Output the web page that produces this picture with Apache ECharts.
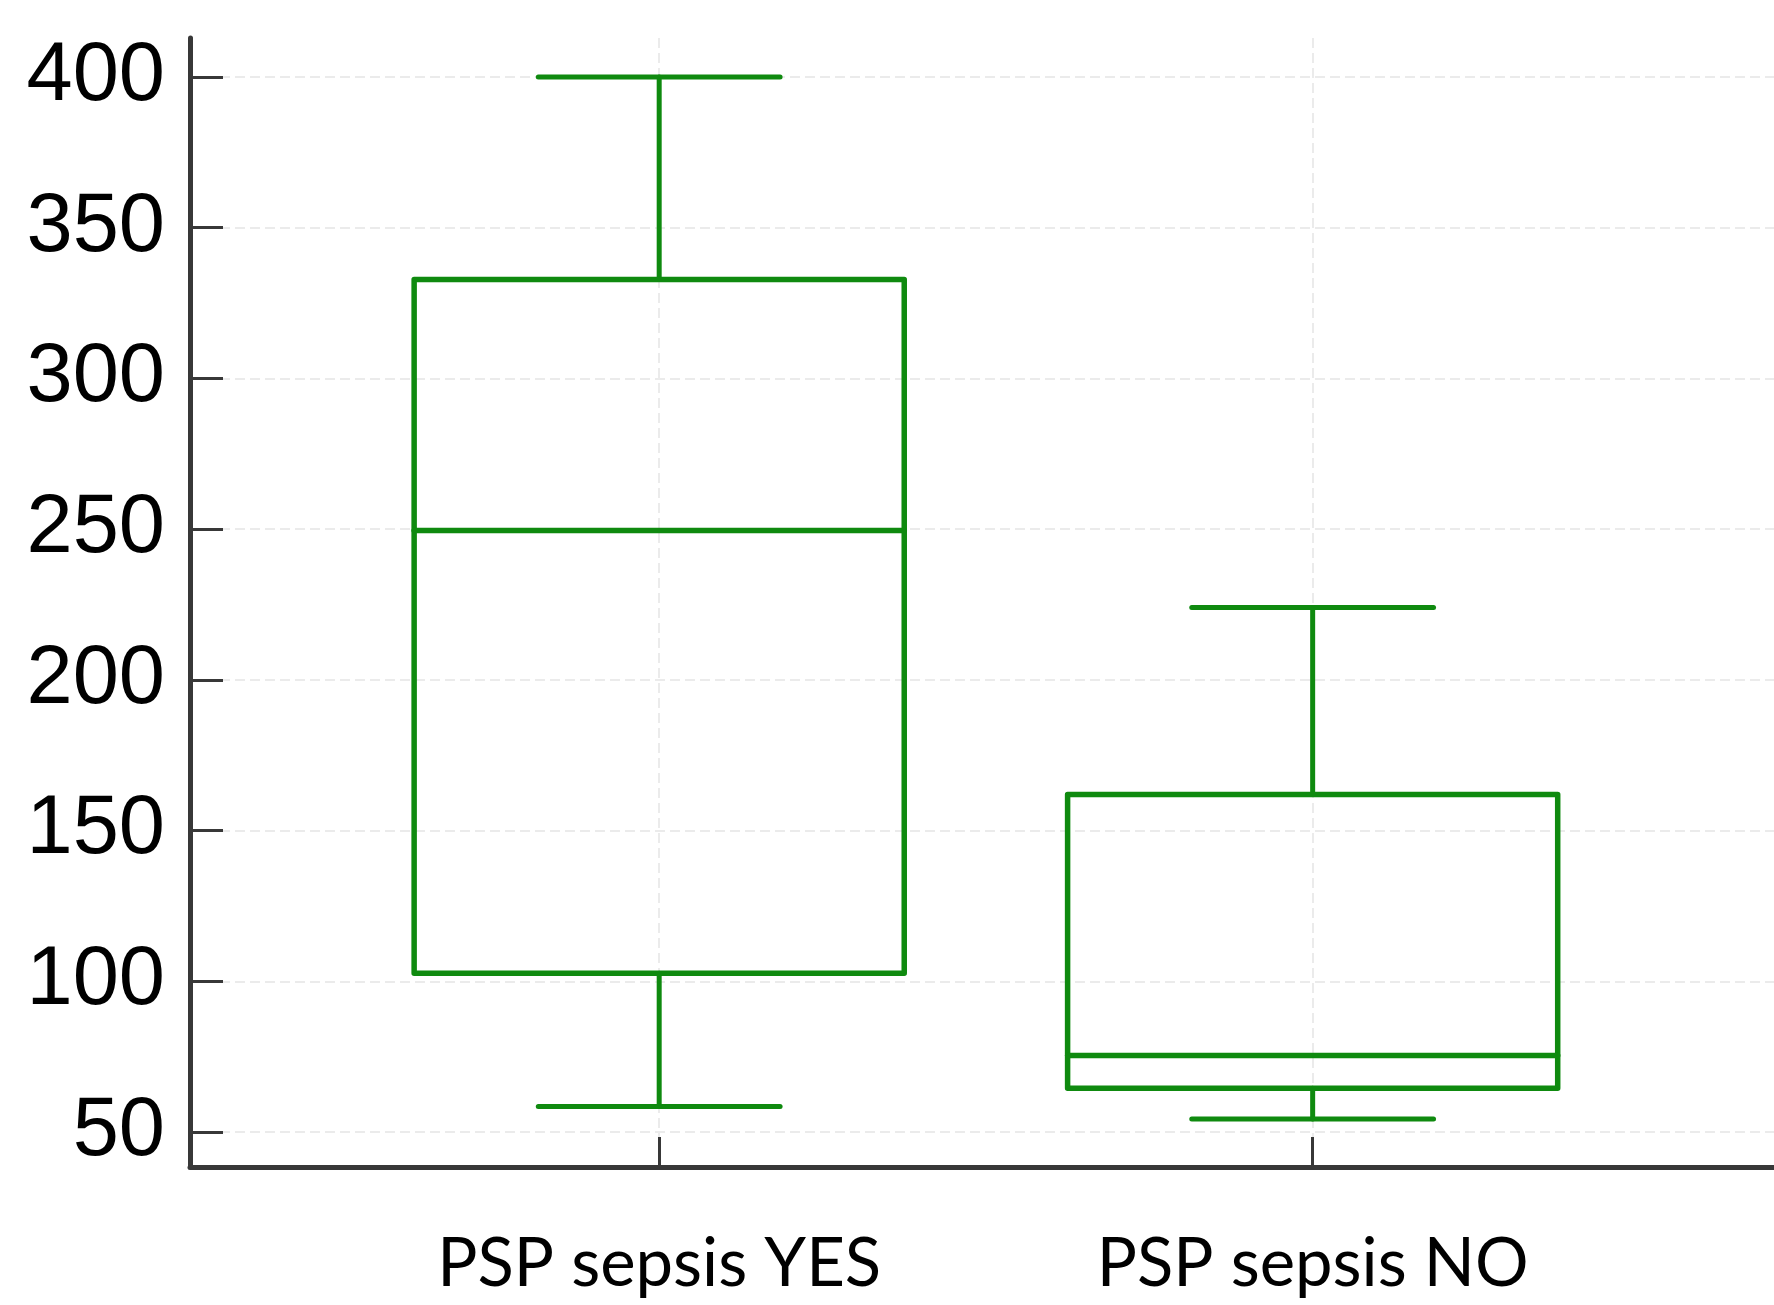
<!DOCTYPE html>
<html>
<head>
<meta charset="utf-8">
<script src="https://cdn.jsdelivr.net/npm/echarts@6/dist/echarts.min.js"></script>
<style>
  html, body { margin: 0; padding: 0; background: #fff; }
  #chart { width: 1774px; height: 1305px; }
</style>
</head>
<body>
<div id="chart"></div>
<script>
// ---- data ----
const categories = ['PSP sepsis YES', 'PSP sepsis NO'];
const mins    = [58.5, 54.3];
const q1s     = [102.7, 64.5];
const medians = [249.5, 75.4];
const q3s     = [332.8, 162];
const maxs    = [400, 224];
const yTicks  = [50, 100, 150, 200, 250, 300, 350, 400];

const GREEN = '#0f8a0f';
const AXIS = '#383838';
const GRID = '#ebebeb';
const BOX_FRAC = 0.75;
const CAP_FRAC = 0.37;

const boxData = categories.map((c, i) => [i + 1, mins[i], q1s[i], medians[i], q3s[i], maxs[i]]);
const catPositions = categories.map((c, i) => i + 1);

const chart = echarts.init(document.getElementById('chart'), null, { renderer: 'canvas' });

chart.setOption({
  animation: false,
  backgroundColor: '#ffffff',
  grid: { left: 190, top: 38, right: 0, height: 1129, containLabel: false },
  xAxis: {
    type: 'value',
    min: 0.282,
    max: 2.706,
    axisLine: { show: true, lineStyle: { color: AXIS, width: 5 } },
    axisTick: { show: true, inside: true, length: 30, customValues: catPositions, lineStyle: { color: AXIS, width: 3 } },
    axisLabel: {
      show: true,
      customValues: catPositions,
      margin: 64,
      formatter: v => categories[Math.round(v) - 1] || '',
      color: '#000',
      fontFamily: 'Lato',
      fontSize: 67
    },
    splitLine: { show: true, customValues: catPositions, lineStyle: { color: GRID, width: 2, type: [10, 5] } }
  },
  yAxis: {
    type: 'value',
    min: 38.4,
    max: 412.9,
    axisLine: { show: true, lineStyle: { color: AXIS, width: 5 } },
    axisTick: { show: true, inside: true, length: 33, customValues: yTicks, lineStyle: { color: AXIS, width: 3 } },
    axisLabel: {
      show: true,
      customValues: yTicks,
      margin: 25,
      color: '#000',
      fontFamily: 'Liberation Sans',
      fontSize: 83
    },
    splitLine: { show: true, customValues: yTicks, lineStyle: { color: GRID, width: 2, type: [10, 5] } }
  },
  series: [{
    type: 'custom',
    clip: false,
    data: boxData,
    renderItem: function (params, api) {
      const x = api.value(0);
      const unit = api.size([1, 0])[0];
      const bw = unit * BOX_FRAC;
      const cw = unit * CAP_FRAC;
      const pLo = api.coord([x, api.value(1)]);
      const pQ1 = api.coord([x, api.value(2)]);
      const pMed = api.coord([x, api.value(3)]);
      const pQ3 = api.coord([x, api.value(4)]);
      const pHi = api.coord([x, api.value(5)]);
      const cx = pMed[0];
      const lineStyle = { stroke: GREEN, lineWidth: 5.5, lineJoin: 'round', lineCap: 'round', fill: null };
      const wStyle = Object.assign({}, lineStyle, { lineWidth: 5 });
      return {
        type: 'group',
        children: [
          { type: 'line', shape: { x1: cx, y1: pQ3[1], x2: cx, y2: pHi[1] }, style: wStyle },
          { type: 'line', shape: { x1: cx - cw / 2, y1: pHi[1], x2: cx + cw / 2, y2: pHi[1] }, style: wStyle },
          { type: 'line', shape: { x1: cx, y1: pQ1[1], x2: cx, y2: pLo[1] }, style: wStyle },
          { type: 'line', shape: { x1: cx - cw / 2, y1: pLo[1], x2: cx + cw / 2, y2: pLo[1] }, style: wStyle },
          { type: 'rect', shape: { x: cx - bw / 2, y: pQ3[1], width: bw, height: pQ1[1] - pQ3[1] }, style: Object.assign({}, lineStyle, { fill: 'none' }) },
          { type: 'line', shape: { x1: cx - bw / 2, y1: pMed[1], x2: cx + bw / 2, y2: pMed[1] }, style: lineStyle }
        ]
      };
    }
  }]
});
</script>
</body>
</html>
